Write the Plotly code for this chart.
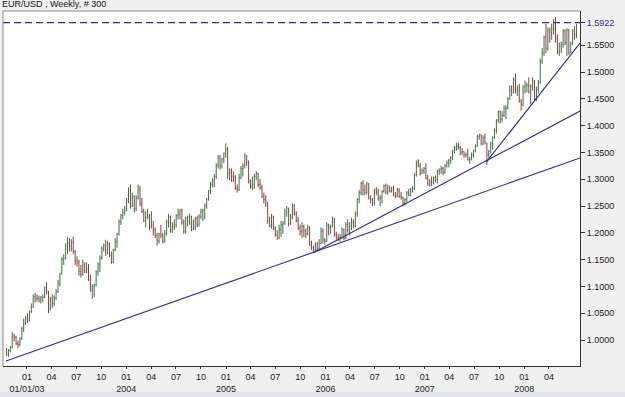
import pandas as pd
import plotly.graph_objects as go

# ---------------- data (weekly EUR/USD, 300 bars) ----------------
last_week = "2008-07-11"

open_ = [
    0.982, 0.973,
    0.980, 0.987, 1.007, 1.005, 0.993,
    0.992, 1.003, 1.021, 1.032,
    1.041, 1.036, 1.053, 1.062, 1.081,
    1.077, 1.078, 1.075, 1.079,
    1.080, 1.098, 1.090, 1.060,
    1.077, 1.068, 1.078, 1.090,
    1.105, 1.125, 1.150, 1.153, 1.175,
    1.180, 1.175, 1.182, 1.165,
    1.148, 1.145, 1.128, 1.123,
    1.140, 1.130, 1.133, 1.118, 1.093,
    1.100, 1.103, 1.127, 1.140,
    1.153, 1.170, 1.177, 1.162, 1.180,
    1.158, 1.145, 1.168, 1.183,
    1.198, 1.221, 1.232, 1.238,
    1.245, 1.260, 1.280, 1.250, 1.268,
    1.245, 1.265, 1.280, 1.255,
    1.240, 1.222, 1.228, 1.230,
    1.212, 1.215, 1.205, 1.195, 1.185,
    1.198, 1.195, 1.183, 1.198,
    1.220, 1.230, 1.204, 1.212,
    1.215, 1.232, 1.235, 1.242, 1.220,
    1.203, 1.228, 1.230, 1.230,
    1.207, 1.210, 1.227, 1.215,
    1.230, 1.240, 1.243, 1.250, 1.263,
    1.278, 1.290, 1.298, 1.305,
    1.325, 1.342, 1.325, 1.338, 1.348,
    1.357, 1.310, 1.313, 1.305,
    1.303, 1.283, 1.280, 1.303,
    1.320, 1.325, 1.343, 1.332,
    1.296, 1.286, 1.290, 1.305, 1.310,
    1.290, 1.284, 1.268, 1.262,
    1.255, 1.223, 1.213, 1.230,
    1.208, 1.197, 1.190, 1.206, 1.215,
    1.218, 1.238, 1.245, 1.217,
    1.230, 1.250, 1.235, 1.222, 1.209,
    1.203, 1.212, 1.204, 1.198,
    1.211, 1.178, 1.172, 1.169,
    1.179, 1.171, 1.180, 1.203, 1.187,
    1.184, 1.214, 1.210, 1.212,
    1.225, 1.197, 1.192, 1.190,
    1.191, 1.206, 1.190, 1.215, 1.205,
    1.212, 1.220, 1.212, 1.235,
    1.262, 1.275, 1.292, 1.280,
    1.275, 1.291, 1.265, 1.262, 1.256,
    1.280, 1.276, 1.264, 1.266,
    1.277, 1.288, 1.276, 1.284,
    1.278, 1.282, 1.270, 1.268, 1.281,
    1.268, 1.265, 1.254, 1.262,
    1.275, 1.270, 1.282, 1.283,
    1.308, 1.330, 1.325, 1.310, 1.316,
    1.320, 1.301, 1.291, 1.296,
    1.294, 1.303, 1.299, 1.315,
    1.317, 1.320, 1.313, 1.325, 1.331,
    1.335, 1.340, 1.352, 1.358,
    1.362, 1.359, 1.350, 1.352,
    1.345, 1.346, 1.336, 1.338, 1.346,
    1.353, 1.362, 1.380, 1.383,
    1.366, 1.378, 1.368, 1.346, 1.352,
    1.367, 1.378, 1.392, 1.410,
    1.426, 1.412, 1.419, 1.432,
    1.433, 1.450, 1.466, 1.462, 1.485,
    1.463, 1.466, 1.445, 1.438,
    1.472, 1.475, 1.475, 1.463,
    1.473, 1.483, 1.450, 1.467, 1.481,
    1.520, 1.535, 1.565, 1.543,
    1.578, 1.574, 1.580, 1.582,
    1.562, 1.538, 1.548, 1.552, 1.575,
    1.555, 1.578, 1.536, 1.553,
    1.575, 1.570,
]

high = [
    0.985, 0.983,
    0.989, 1.015, 1.012, 1.008, 0.999,
    1.005, 1.025, 1.040, 1.045,
    1.050, 1.055, 1.068, 1.085, 1.088,
    1.085, 1.083, 1.082, 1.085,
    1.100, 1.108, 1.092, 1.080,
    1.085, 1.083, 1.095, 1.112,
    1.125, 1.155, 1.160, 1.180, 1.192,
    1.190, 1.188, 1.193, 1.168,
    1.156, 1.150, 1.140, 1.150,
    1.145, 1.145, 1.142, 1.122, 1.104,
    1.105, 1.130, 1.145, 1.158,
    1.175, 1.180, 1.187, 1.185, 1.182,
    1.165, 1.170, 1.190, 1.200,
    1.225, 1.235, 1.245, 1.250,
    1.265, 1.285, 1.290, 1.275, 1.270,
    1.270, 1.290, 1.287, 1.265,
    1.245, 1.240, 1.245, 1.235,
    1.240, 1.222, 1.210, 1.200, 1.200,
    1.215, 1.200, 1.205, 1.225,
    1.235, 1.232, 1.220, 1.225,
    1.235, 1.245, 1.245, 1.245, 1.225,
    1.230, 1.232, 1.236, 1.232,
    1.225, 1.230, 1.232, 1.235,
    1.245, 1.245, 1.255, 1.265, 1.280,
    1.295, 1.302, 1.310, 1.330,
    1.345, 1.345, 1.340, 1.350, 1.367,
    1.360, 1.320, 1.320, 1.315,
    1.308, 1.290, 1.310, 1.325,
    1.330, 1.348, 1.345, 1.335,
    1.300, 1.305, 1.310, 1.315, 1.312,
    1.300, 1.290, 1.275, 1.270,
    1.258, 1.230, 1.235, 1.232,
    1.212, 1.205, 1.215, 1.222, 1.222,
    1.245, 1.250, 1.247, 1.235,
    1.255, 1.254, 1.240, 1.230, 1.215,
    1.220, 1.215, 1.208, 1.215,
    1.212, 1.185, 1.176, 1.182,
    1.183, 1.188, 1.210, 1.208, 1.190,
    1.220, 1.217, 1.215, 1.230,
    1.228, 1.202, 1.198, 1.198,
    1.210, 1.208, 1.220, 1.225, 1.220,
    1.228, 1.225, 1.240, 1.265,
    1.280, 1.295, 1.298, 1.290,
    1.295, 1.293, 1.270, 1.265, 1.282,
    1.285, 1.282, 1.270, 1.280,
    1.290, 1.292, 1.290, 1.288,
    1.286, 1.288, 1.276, 1.284, 1.283,
    1.276, 1.268, 1.265, 1.278,
    1.282, 1.284, 1.287, 1.312,
    1.335, 1.337, 1.330, 1.320, 1.323,
    1.330, 1.308, 1.300, 1.305,
    1.305, 1.307, 1.318, 1.320,
    1.325, 1.323, 1.328, 1.335, 1.338,
    1.343, 1.355, 1.362, 1.368,
    1.368, 1.362, 1.358, 1.352,
    1.350, 1.357, 1.342, 1.350, 1.355,
    1.365, 1.383, 1.385, 1.384,
    1.382, 1.385, 1.368, 1.355, 1.370,
    1.380, 1.395, 1.412, 1.428,
    1.428, 1.427, 1.437, 1.438,
    1.453, 1.475, 1.475, 1.490, 1.497,
    1.475, 1.478, 1.450, 1.475,
    1.484, 1.480, 1.490, 1.477,
    1.490, 1.485, 1.473, 1.485, 1.525,
    1.545, 1.568, 1.590, 1.583,
    1.583, 1.590, 1.599, 1.602,
    1.570, 1.555, 1.557, 1.580, 1.580,
    1.582, 1.580, 1.557, 1.580,
    1.585, 1.590,
]

low = [
    0.970, 0.968,
    0.977, 0.985, 0.998, 0.990, 0.985,
    0.988, 1.000, 1.015, 1.028,
    1.032, 1.035, 1.050, 1.060, 1.070,
    1.072, 1.070, 1.068, 1.070,
    1.078, 1.085, 1.050, 1.055,
    1.060, 1.063, 1.075, 1.088,
    1.100, 1.122, 1.140, 1.150, 1.160,
    1.165, 1.165, 1.160, 1.140,
    1.137, 1.120, 1.117, 1.120,
    1.125, 1.125, 1.110, 1.090, 1.077,
    1.080, 1.100, 1.120, 1.127,
    1.150, 1.165, 1.157, 1.160, 1.155,
    1.142, 1.143, 1.165, 1.172,
    1.195, 1.215, 1.225, 1.232,
    1.240, 1.255, 1.245, 1.248, 1.238,
    1.240, 1.262, 1.250, 1.237,
    1.220, 1.210, 1.225, 1.205,
    1.208, 1.195, 1.190, 1.176, 1.180,
    1.190, 1.180, 1.182, 1.195,
    1.210, 1.200, 1.200, 1.205,
    1.210, 1.225, 1.225, 1.215, 1.198,
    1.198, 1.212, 1.215, 1.203,
    1.205, 1.205, 1.210, 1.212,
    1.225, 1.222, 1.225, 1.245, 1.260,
    1.272, 1.285, 1.285, 1.300,
    1.320, 1.318, 1.320, 1.330, 1.340,
    1.300, 1.298, 1.295, 1.295,
    1.280, 1.275, 1.278, 1.300,
    1.305, 1.320, 1.325, 1.292,
    1.282, 1.280, 1.282, 1.298, 1.285,
    1.280, 1.265, 1.255, 1.248,
    1.217, 1.210, 1.208, 1.205,
    1.193, 1.187, 1.188, 1.192, 1.198,
    1.215, 1.230, 1.212, 1.215,
    1.225, 1.232, 1.220, 1.205, 1.195,
    1.190, 1.192, 1.190, 1.195,
    1.175, 1.168, 1.164, 1.165,
    1.167, 1.168, 1.178, 1.180, 1.178,
    1.183, 1.195, 1.198, 1.210,
    1.193, 1.187, 1.185, 1.183,
    1.188, 1.186, 1.188, 1.200, 1.195,
    1.205, 1.208, 1.210, 1.230,
    1.255, 1.270, 1.270, 1.270,
    1.272, 1.262, 1.255, 1.250, 1.251,
    1.270, 1.260, 1.250, 1.255,
    1.275, 1.272, 1.271, 1.275,
    1.275, 1.268, 1.265, 1.266, 1.265,
    1.262, 1.249, 1.251, 1.257,
    1.268, 1.268, 1.275, 1.280,
    1.305, 1.322, 1.307, 1.310, 1.310,
    1.300, 1.288, 1.286, 1.287,
    1.290, 1.294, 1.292, 1.308,
    1.310, 1.307, 1.310, 1.322, 1.322,
    1.328, 1.336, 1.348, 1.353,
    1.355, 1.345, 1.345, 1.340,
    1.340, 1.335, 1.329, 1.335, 1.340,
    1.350, 1.360, 1.374, 1.363,
    1.364, 1.365, 1.326, 1.340, 1.348,
    1.355, 1.375, 1.385, 1.405,
    1.404, 1.406, 1.416, 1.412,
    1.430, 1.448, 1.455, 1.460, 1.460,
    1.455, 1.443, 1.428, 1.436,
    1.460, 1.462, 1.460, 1.440,
    1.465, 1.446, 1.446, 1.460, 1.478,
    1.515, 1.530, 1.535, 1.540,
    1.555, 1.560, 1.570, 1.555,
    1.533, 1.530, 1.535, 1.545, 1.550,
    1.530, 1.532, 1.535, 1.550,
    1.560, 1.563,
]

close = [
    0.973, 0.980,
    0.987, 1.007, 1.005, 0.993, 0.992,
    1.003, 1.021, 1.032, 1.041,
    1.036, 1.053, 1.062, 1.081, 1.077,
    1.078, 1.075, 1.079, 1.080,
    1.098, 1.090, 1.060, 1.077,
    1.068, 1.078, 1.090, 1.105,
    1.125, 1.150, 1.153, 1.175, 1.180,
    1.175, 1.182, 1.165, 1.148,
    1.145, 1.128, 1.123, 1.140,
    1.130, 1.133, 1.118, 1.093, 1.100,
    1.103, 1.127, 1.140, 1.153,
    1.170, 1.177, 1.162, 1.180, 1.158,
    1.145, 1.168, 1.183, 1.198,
    1.221, 1.232, 1.238, 1.245,
    1.260, 1.280, 1.250, 1.268, 1.245,
    1.265, 1.280, 1.255, 1.240,
    1.222, 1.228, 1.230, 1.212,
    1.215, 1.205, 1.195, 1.185, 1.198,
    1.195, 1.183, 1.198, 1.220,
    1.230, 1.204, 1.212, 1.215,
    1.232, 1.235, 1.242, 1.220, 1.203,
    1.228, 1.230, 1.230, 1.207,
    1.210, 1.227, 1.215, 1.230,
    1.240, 1.243, 1.250, 1.263, 1.278,
    1.290, 1.298, 1.305, 1.325,
    1.342, 1.325, 1.338, 1.348, 1.357,
    1.310, 1.313, 1.305, 1.303,
    1.283, 1.280, 1.303, 1.320,
    1.325, 1.343, 1.332, 1.296,
    1.286, 1.290, 1.305, 1.310, 1.290,
    1.284, 1.268, 1.262, 1.255,
    1.223, 1.213, 1.230, 1.208,
    1.197, 1.190, 1.206, 1.215, 1.218,
    1.238, 1.245, 1.217, 1.230,
    1.250, 1.235, 1.222, 1.209, 1.203,
    1.212, 1.204, 1.198, 1.211,
    1.178, 1.172, 1.169, 1.179,
    1.171, 1.180, 1.203, 1.187, 1.184,
    1.214, 1.210, 1.212, 1.225,
    1.197, 1.192, 1.190, 1.191,
    1.206, 1.190, 1.215, 1.205, 1.212,
    1.220, 1.212, 1.235, 1.262,
    1.275, 1.292, 1.280, 1.275,
    1.291, 1.265, 1.262, 1.256, 1.280,
    1.276, 1.264, 1.266, 1.277,
    1.288, 1.276, 1.284, 1.278,
    1.282, 1.270, 1.268, 1.281, 1.268,
    1.265, 1.254, 1.262, 1.275,
    1.270, 1.282, 1.283, 1.308,
    1.330, 1.325, 1.310, 1.316, 1.320,
    1.301, 1.291, 1.296, 1.294,
    1.303, 1.299, 1.315, 1.317,
    1.320, 1.313, 1.325, 1.331, 1.335,
    1.340, 1.352, 1.358, 1.362,
    1.359, 1.350, 1.352, 1.345,
    1.346, 1.336, 1.338, 1.346, 1.353,
    1.362, 1.380, 1.383, 1.366,
    1.378, 1.368, 1.346, 1.352, 1.367,
    1.378, 1.392, 1.410, 1.426,
    1.412, 1.419, 1.432, 1.433,
    1.450, 1.466, 1.462, 1.485, 1.463,
    1.466, 1.445, 1.438, 1.472,
    1.475, 1.475, 1.463, 1.473,
    1.483, 1.450, 1.467, 1.481, 1.520,
    1.535, 1.565, 1.543, 1.578,
    1.574, 1.580, 1.582, 1.562,
    1.538, 1.548, 1.552, 1.575, 1.555,
    1.578, 1.536, 1.553, 1.575,
    1.570, 1.588,
]

assert len(open_) == len(high) == len(low) == len(close) == 300, (
    len(open_), len(high), len(low), len(close))

# trend lines: (start date, start price, end date, end price)
trend_x0 = ["2002-10-16", "2005-11-16", "2007-08-16"]
trend_y0 = [0.9608, 1.1623, 1.3327]
trend_x1 = ["2008-07-24", "2008-07-24", "2008-07-24"]
trend_y1 = [1.3396, 1.4272, 1.5540]

high_level = 1.5922

y_ticks = [1.00, 1.05, 1.10, 1.15, 1.20, 1.25, 1.30, 1.35, 1.40, 1.45, 1.50, 1.55]
x_tick_dates = ["2003-01-01", "2003-04-01", "2003-07-01", "2003-10-01",
                "2004-01-01", "2004-04-01", "2004-07-01", "2004-10-01",
                "2005-01-01", "2005-04-01", "2005-07-01", "2005-10-01",
                "2006-01-01", "2006-04-01", "2006-07-01", "2006-10-01",
                "2007-01-01", "2007-04-01", "2007-07-01", "2007-10-01",
                "2008-01-01", "2008-04-01"]
x_tick_text = ["01<br>01/01/03", "04", "07", "10",
               "01<br>2004", "04", "07", "10",
               "01<br>2005", "04", "07", "10",
               "01<br>2006", "04", "07", "10",
               "01<br>2007", "04", "07", "10",
               "01<br>2008", "04"]

dates = pd.date_range(end=last_week, periods=len(close), freq="7D")

NAVY = "#2e2e86"
FONT = "Liberation Sans, Arial, sans-serif"

fig = go.Figure()
fig.add_trace(go.Ohlc(
    x=dates, open=open_, high=high, low=low, close=close,
    increasing=dict(line=dict(color="#3f6f44", width=1)),
    decreasing=dict(line=dict(color="#8a3f3f", width=1)),
    tickwidth=0.3, showlegend=False, hoverinfo="skip",
))

for x0, y0, x1, y1 in zip(trend_x0, trend_y0, trend_x1, trend_y1):
    fig.add_trace(go.Scatter(x=[x0, x1], y=[y0, y1], mode="lines",
                             line=dict(color=NAVY, width=1.1),
                             showlegend=False, hoverinfo="skip"))

fig.add_trace(go.Scatter(x=["2002-10-05", "2008-07-24"], y=[high_level, high_level],
                         mode="lines", line=dict(color=NAVY, width=1.2, dash="7px,4px"),
                         showlegend=False, hoverinfo="skip"))

tickvals = y_ticks + [high_level]
ticktext = [f"{v:.4f}" for v in y_ticks] + [f"<span style='color:{NAVY}'>{high_level:.4f}</span>"]

fig.update_layout(
    width=625, height=397,
    margin=dict(l=3, r=45, t=11, b=31),
    paper_bgcolor="#f0f0f0", plot_bgcolor="#ffffff",
    font=dict(family=FONT, size=9, color="#222222"),
    xaxis=dict(
        type="date", range=["2002-10-05", "2008-07-24"],
        rangeslider=dict(visible=False),
        tickmode="array", tickvals=x_tick_dates, ticktext=x_tick_text,
        tickangle=0,
        ticks="outside", ticklen=2, tickcolor="#333333",
        showgrid=False, zeroline=False,
        showline=True, linecolor="#333333", linewidth=1,
        tickfont=dict(size=9, color="#222222"),
    ),
    yaxis=dict(
        side="right", range=[0.9515, 1.6138],
        tickmode="array", tickvals=tickvals, ticktext=ticktext,
        ticks="outside", ticklen=4, tickcolor="#333333",
        showgrid=False, zeroline=False,
        showline=True, linecolor="#333333", linewidth=1,
        tickfont=dict(size=9, color="#222222"),
    ),
    shapes=[
        dict(type="line", xref="paper", yref="paper", x0=0, x1=1, y0=1, y1=1,
             line=dict(color="#8a8a8a", width=1)),
        dict(type="line", xref="paper", yref="paper", x0=0, x1=0, y0=0, y1=1,
             line=dict(color="#8a8a8a", width=1)),
        dict(type="rect", xref="paper", yref="paper", x0=-0.02, x1=1.1,
             y0=-0.0735, y1=-0.095, fillcolor="#e4e7f0", line=dict(width=0),
             layer="below"),
    ],
    annotations=[
        dict(text="EUR/USD , Weekly, # 300", xref="paper", yref="paper",
             x=0, y=1, xanchor="left", yanchor="bottom", xshift=-3, yshift=0,
             showarrow=False, font=dict(family=FONT, size=9, color="#111111")),
    ],
)

fig.write_html("out.html")
